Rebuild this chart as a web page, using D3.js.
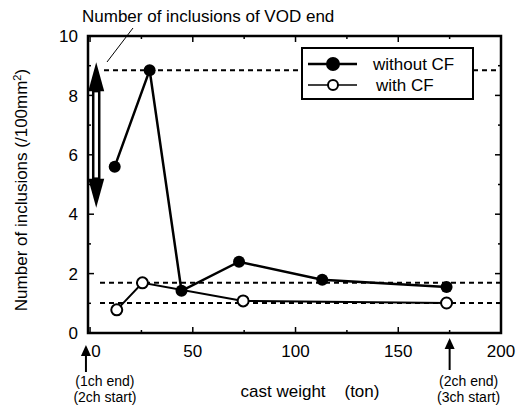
<!DOCTYPE html>
<html>
<head>
<meta charset="utf-8">
<script src="https://cdn.jsdelivr.net/npm/d3@7"></script>
<style>
  body { margin: 0; background: #fff; }
  svg { font-family: "Liberation Sans", Arial, sans-serif; }
</style>
</head>
<body>
<svg width="531" height="406"></svg>
<script>
// datos
var xWithout = [12, 29, 44.5, 72.5, 113, 173.5];
var yWithout = [5.6, 8.85, 1.42, 2.4, 1.79, 1.55];
var xWith = [13, 25.5, 74.5, 173.5];
var yWith = [0.78, 1.69, 1.08, 1.01];
var refLevels = [8.85, 1.69, 1.01];
var xTicks = [0, 50, 100, 150, 200];
var yTicks = [0, 2, 4, 6, 8, 10];
var seriesNames = ["without CF", "with CF"];

var svg = d3.select("svg"),
    pL = 88, pR = 501, pT = 36, pB = 333;

var x = d3.scaleLinear().domain([-1, 200]).range([pL, pR]);
var y = d3.scaleLinear().domain([0, 10]).range([pB, pT]);

// lineas de referencia punteadas
svg.selectAll(".ref")
  .data(refLevels)
  .enter().append("line")
    .attr("x1", function(d, i) { return i == 0 ? 104 : 100; })
    .attr("x2", pR)
    .attr("y1", function(d) { return y(d); })
    .attr("y2", function(d) { return y(d); })
    .attr("stroke", "#000")
    .attr("stroke-width", 2)
    .attr("stroke-dasharray", "5,4");

// marco
svg.append("rect")
  .attr("x", pL).attr("y", pT)
  .attr("width", pR - pL).attr("height", pB - pT)
  .attr("fill", "none").attr("stroke", "#000").attr("stroke-width", 2.5);

// ticks hacia adentro
var minorX = d3.range(0, 201, 25), minorY = d3.range(0, 11, 1);
var g = svg.append("g").attr("stroke", "#000").attr("stroke-width", 1.5);
minorX.forEach(function(v) {
  var len = v % 50 == 0 ? 6 : 3;
  g.append("line").attr("x1", x(v)).attr("x2", x(v)).attr("y1", pB).attr("y2", pB - len);
  g.append("line").attr("x1", x(v)).attr("x2", x(v)).attr("y1", pT).attr("y2", pT + len);
});
minorY.forEach(function(v) {
  var len = v % 2 == 0 ? 6 : 3;
  g.append("line").attr("y1", y(v)).attr("y2", y(v)).attr("x1", pL).attr("x2", pL + len);
  g.append("line").attr("y1", y(v)).attr("y2", y(v)).attr("x1", pR).attr("x2", pR - len);
});

// etiquetas de ejes
svg.append("g").attr("font-size", 17).attr("text-anchor", "end")
  .selectAll("text").data(yTicks).enter().append("text")
    .attr("x", 78).attr("y", function(d) { return y(d); })
    .attr("dy", "0.36em")
    .text(function(d) { return d; });

svg.append("g").attr("font-size", 17).attr("text-anchor", "middle")
  .selectAll("text").data(xTicks).enter().append("text")
    .attr("x", function(d) { return x(d) + (d == 0 ? 6 : 0); })
    .attr("y", 357)
    .text(function(d) { return d; });

svg.append("text")
  .attr("transform", "translate(27,190) rotate(-90)")
  .attr("text-anchor", "middle").attr("font-size", 17)
  .html('Number of inclusions (/100mm<tspan font-size="11" dy="-6">2</tspan><tspan dy="6">)</tspan>');

svg.append("text")
  .attr("x", 310).attr("y", 397).attr("text-anchor", "middle").attr("font-size", 17)
  .attr("xml:space", "preserve")
  .text("cast weight    (ton)");

svg.append("text")
  .attr("x", 82).attr("y", 22).attr("font-size", 17)
  .text("Number of inclusions of VOD end");

svg.append("line")
  .attr("x1", 133).attr("y1", 28).attr("x2", 107).attr("y2", 62)
  .attr("stroke", "#000").attr("stroke-width", 1);

// flecha doble vertical
var ax = x(3), tipTop = y(9.12), tipBot = y(4.22), headLen = 29, headW = 8;
svg.append("rect")
  .attr("x", ax - 3).attr("y", tipTop + headLen)
  .attr("width", 6).attr("height", tipBot - tipTop - 2 * headLen)
  .attr("fill", "#fff").attr("stroke", "#000").attr("stroke-width", 2.5);
svg.append("path")
  .attr("d", "M" + ax + "," + tipTop + "L" + (ax - headW) + "," + (tipTop + headLen) + "L" + (ax + headW) + "," + (tipTop + headLen) + "Z")
  .attr("fill", "#000");
svg.append("path")
  .attr("d", "M" + ax + "," + tipBot + "L" + (ax - headW) + "," + (tipBot - headLen) + "L" + (ax + headW) + "," + (tipBot - headLen) + "Z")
  .attr("fill", "#000");

// series
var line = d3.line().x(function(d) { return x(d[0]); }).y(function(d) { return y(d[1]); });
var dWithout = d3.zip(xWithout, yWithout), dWith = d3.zip(xWith, yWith);

svg.append("path").datum(dWith).attr("d", line)
  .attr("fill", "none").attr("stroke", "#000").attr("stroke-width", 2);
svg.append("path").datum(dWithout).attr("d", line)
  .attr("fill", "none").attr("stroke", "#000").attr("stroke-width", 2.5);

svg.selectAll(".pw").data(dWithout).enter().append("circle")
  .attr("cx", function(d) { return x(d[0]); }).attr("cy", function(d) { return y(d[1]); })
  .attr("r", 6).attr("fill", "#000");
svg.selectAll(".po").data(dWith).enter().append("circle")
  .attr("cx", function(d) { return x(d[0]); }).attr("cy", function(d) { return y(d[1]); })
  .attr("r", 5.5).attr("fill", "#fff").attr("stroke", "#000").attr("stroke-width", 2);

// leyenda
svg.append("rect")
  .attr("x", 302).attr("y", 48).attr("width", 171).attr("height", 51)
  .attr("fill", "#fff").attr("stroke", "#000").attr("stroke-width", 2);
var leg = svg.selectAll(".leg").data(seriesNames).enter().append("g")
  .attr("transform", function(d, i) { return "translate(0," + (64 + i * 21) + ")"; });
leg.append("line").attr("x1", 308).attr("x2", 357)
  .attr("stroke", "#000").attr("stroke-width", function(d, i) { return i == 0 ? 2.5 : 1.5; });
leg.append("circle").attr("cx", 333).attr("r", function(d, i) { return i == 0 ? 6 : 5; })
  .attr("fill", function(d, i) { return i == 0 ? "#000" : "#fff"; })
  .attr("stroke", "#000").attr("stroke-width", 2);
leg.append("text")
  .attr("x", function(d, i) { return i == 0 ? 373 : 376; })
  .attr("dy", "0.36em").attr("font-size", 17)
  .text(function(d) { return d; });

// flechas de cambio de colada
var marks = [{v: -2, l1: "(1ch end)", l2: "(2ch start)", tip: 345, tail: 372},
             {v: 175, l1: "(2ch end)", l2: "(3ch start)", tip: 338, tail: 370}];
var mk = svg.selectAll(".mk").data(marks).enter().append("g");
mk.append("line")
  .attr("x1", function(d) { return x(d.v); }).attr("x2", function(d) { return x(d.v); })
  .attr("y1", function(d) { return d.tip + 8; }).attr("y2", function(d) { return d.tail; })
  .attr("stroke", "#000").attr("stroke-width", 2);
mk.append("path")
  .attr("d", function(d) { var cx = x(d.v); return "M" + cx + "," + d.tip + "L" + (cx - 5) + "," + (d.tip + 11) + "L" + (cx + 5) + "," + (d.tip + 11) + "Z"; })
  .attr("fill", "#000");
mk.append("text").attr("x", function(d) { return x(d.v) + 19; }).attr("y", 386)
  .attr("text-anchor", "middle").attr("font-size", 14).text(function(d) { return d.l1; });
mk.append("text").attr("x", function(d) { return x(d.v) + 19; }).attr("y", 402)
  .attr("text-anchor", "middle").attr("font-size", 14).text(function(d) { return d.l2; });
</script>
</body>
</html>
